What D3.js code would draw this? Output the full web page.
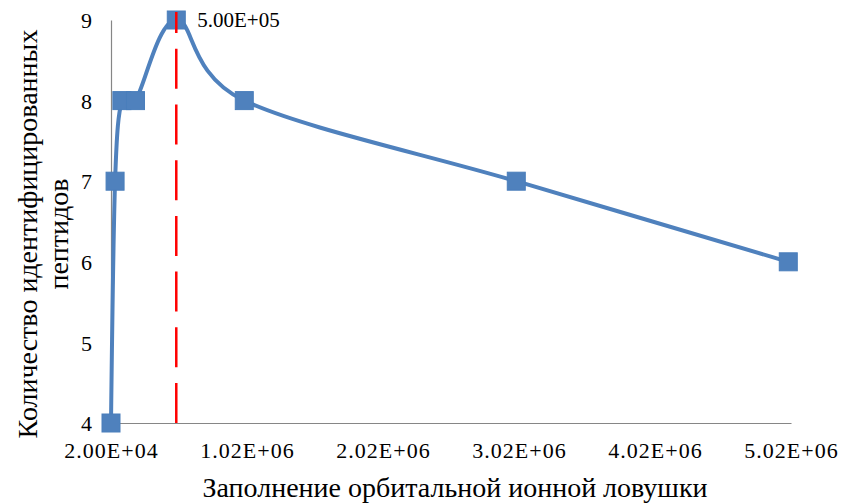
<!DOCTYPE html>
<html>
<head>
<meta charset="utf-8">
<script src="https://cdn.jsdelivr.net/npm/d3@7/dist/d3.min.js"></script>
<style>
  html, body { margin: 0; padding: 0; background: #fff; }
  svg { display: block; }
</style>
</head>
<body>
<svg id="chart" width="843" height="504"></svg>
<script>
// Orbitrap fill level (AGC target) vs. number of identified peptides
const fillLevels = [2e4, 5e4, 1e5, 2e5, 5e5, 1e6, 3e6, 5e6];
const peptideCounts = [4, 7, 8, 8, 9, 8, 7, 6];
const xTicks = [2e4, 1.02e6, 2.02e6, 3.02e6, 4.02e6, 5.02e6];
const yTicks = [4, 5, 6, 7, 8, 9];
const markerX = 5e5;          // highlighted fill level
const markerLabel = "5.00E+05";
const xTitle = "Заполнение орбитальной ионной ловушки";
const yTitleLines = ["Количество идентифицированных", "пептидов"];

const FONT = "Liberation Serif";
const svg = d3.select("#chart");
const x = d3.scaleLinear().domain([2e4, 5.02e6]).range([111, 791]);
const y = d3.scaleLinear().domain([4, 9]).range([423, 20]);

const fmt = v => {
  const e = Math.floor(Math.log10(v));
  const m = (v / Math.pow(10, e)).toFixed(2);
  return m + "E+" + String(e).padStart(2, "0");
};

// axes (lines only, no tick marks)
const xAxis = d3.axisBottom(x).tickValues(xTicks).tickSize(0).tickPadding(0).tickFormat(fmt);
const gx = svg.append("g").attr("transform", `translate(0,${y(4)})`).call(xAxis)
  .attr("font-family", FONT).attr("font-size", 22);
gx.select(".domain").attr("stroke", "#868686").attr("stroke-width", 1.2);
gx.selectAll(".tick text")
  .attr("y", 35).attr("dy", 0).attr("fill", "#000")
  .style("font-family", FONT).style("font-size", "22px").style("letter-spacing", "1px");

const yAxis = d3.axisLeft(y).tickValues(yTicks).tickSize(0).tickPadding(19).tickFormat(d3.format("d"));
const gy = svg.append("g").attr("transform", `translate(${x(2e4)},0)`).call(yAxis)
  .attr("font-family", FONT).attr("font-size", 22);
gy.select(".domain").attr("stroke", "#868686").attr("stroke-width", 1.2);
gy.selectAll(".tick text")
  .attr("dy", "0.35em").attr("fill", "#000")
  .style("font-family", FONT).style("font-size", "22px");

// smoothed series line
const pts = fillLevels.map((v, i) => [v, peptideCounts[i]]);
const line = d3.line().x(d => x(d[0])).y(d => y(d[1])).curve(d3.curveCardinal.tension(0));
svg.append("path")
  .attr("d", line(pts))
  .attr("fill", "none").attr("stroke", "#4f81bd").attr("stroke-width", 4)
  .attr("stroke-linejoin", "round");

// square markers
const ms = 18;
svg.selectAll("rect.marker").data(pts).join("rect")
  .attr("class", "marker")
  .attr("x", d => x(d[0]) - ms / 2).attr("y", d => y(d[1]) - ms / 2)
  .attr("width", ms).attr("height", ms)
  .attr("fill", "#4f81bd").attr("stroke", "#4a7ebb").attr("stroke-width", 1);

// highlighted vertical dashed line, drawn above the markers
svg.append("line")
  .attr("x1", x(markerX)).attr("x2", x(markerX))
  .attr("y1", y(4)).attr("y2", y(9.1))
  .attr("stroke", "#ff0000").attr("stroke-width", 2.5)
  .attr("stroke-dasharray", "40,15.7");

svg.append("text")
  .attr("x", x(markerX) + 21).attr("y", y(9) + 7)
  .style("font-family", FONT).style("font-size", "21px")
  .text(markerLabel);

// axis titles
svg.append("text")
  .attr("x", 455).attr("y", 497)
  .attr("text-anchor", "middle")
  .style("font-family", FONT).style("font-size", "28px")
  .text(xTitle);

const yt = svg.append("text")
  .attr("transform", "translate(37,234) rotate(-90)")
  .attr("text-anchor", "middle")
  .style("font-family", FONT).style("font-size", "28px");
yTitleLines.forEach((t, i) => {
  yt.append("tspan").attr("x", 0).attr("y", i * 31).text(t);
});
</script>
</body>
</html>
